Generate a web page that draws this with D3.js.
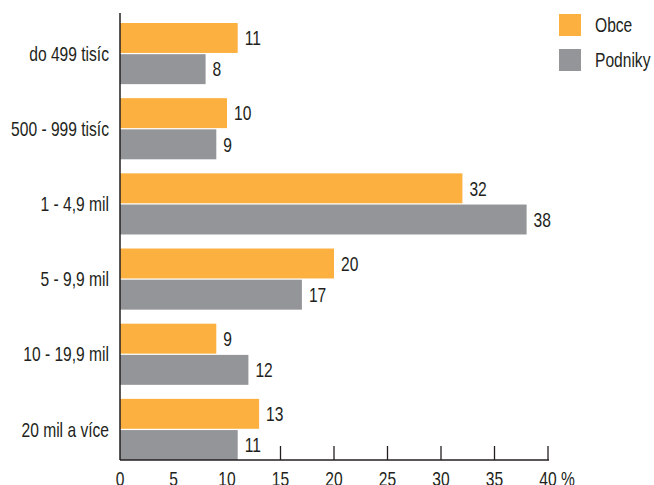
<!DOCTYPE html>
<html>
<head>
<meta charset="utf-8">
<script src="https://cdn.jsdelivr.net/npm/d3@7"></script>
<style>
  body { margin: 0; background: #fff; }
  svg text { font-family: "Liberation Sans", Arial, sans-serif; font-size: 20px; fill: #231f20; }
</style>
</head>
<body>
<div id="chart"></div>
<script>
// --- DATOS ---
const categories = ["do 499 tisíc", "500 - 999 tisíc", "1 - 4,9 mil", "5 - 9,9 mil", "10 - 19,9 mil", "20 mil a více"];
const series = ["Obce", "Podniky"];
const obce = [11, 10, 32, 20, 9, 13];
const podniky = [8, 9, 38, 17, 12, 11];
const xTicks = [0, 5, 10, 15, 20, 25, 30, 35, 40];
const colors = { "Obce": "#fbb040", "Podniky": "#939598" };

const W = 654, H = 485;
const x0 = 120, x1 = 548, yTop = 23, yBottom = 460;
const sx = 0.78; // estrechar el texto (fuente condensada)

const svg = d3.select("#chart").append("svg")
    .attr("width", W)
    .attr("height", H);

// texto condensado: posición por transform
function place(sel, fx, fy) {
    return sel.attr("transform", (d, i) => `translate(${fx(d, i)},${fy(d, i)}) scale(${sx},1)`);
}

const x = d3.scaleLinear().domain([0, 40]).range([x0, x1]);

const y = d3.scaleBand()
    .domain(categories)
    .range([yTop, yBottom])
    .paddingInner(14 / 75)
    .paddingOuter(0);

const ySub = d3.scaleBand()
    .domain(series)
    .range([0, y.bandwidth()])
    .paddingInner(0.04);

// ticks (detrás de las barras)
svg.append("g")
    .selectAll("line")
    .data(xTicks.filter(d => d > 0))
    .join("line")
    .attr("x1", d => x(d)).attr("x2", d => x(d))
    .attr("y1", yBottom - 14).attr("y2", yBottom)
    .attr("stroke", "#231f20")
    .attr("stroke-width", 1.3);

const rows = categories.map((c, i) => ({ cat: c, values: [
    { key: "Obce", v: obce[i] },
    { key: "Podniky", v: podniky[i] }
]}));

const g = svg.append("g")
    .selectAll("g")
    .data(rows)
    .join("g")
    .attr("transform", d => `translate(0,${y(d.cat)})`);

g.selectAll("rect")
    .data(d => d.values)
    .join("rect")
    .attr("x", x(0))
    .attr("y", d => ySub(d.key))
    .attr("width", d => x(d.v) - x(0))
    .attr("height", ySub.bandwidth())
    .attr("fill", d => colors[d.key]);

place(g.selectAll("text.val")
    .data(d => d.values)
    .join("text")
    .attr("class", "val")
    .attr("dy", "0.36em")
    .text(d => d.v),
    d => x(d.v) + 7, d => ySub(d.key) + ySub.bandwidth() / 2);

// etiquetas de categoría
place(svg.append("g")
    .selectAll("text")
    .data(categories)
    .join("text")
    .attr("dy", "0.36em")
    .attr("text-anchor", "end")
    .text(d => d),
    () => 109, d => y(d) + y.bandwidth() / 2);

// ejes
svg.append("line")
    .attr("x1", x0).attr("x2", x0)
    .attr("y1", 13).attr("y2", yBottom)
    .attr("stroke", "#231f20").attr("stroke-width", 1.5);

svg.append("line")
    .attr("x1", x0).attr("x2", x1 + 1)
    .attr("y1", yBottom).attr("y2", yBottom)
    .attr("stroke", "#231f20").attr("stroke-width", 1.5);

place(svg.append("g")
    .selectAll("text")
    .data(xTicks)
    .join("text")
    .attr("text-anchor", "middle")
    .text(d => d),
    d => x(d), () => 486);

place(svg.append("text").datum("%").text("%"),
    () => x(40) + 13, () => 486);

// leyenda
const legend = svg.append("g")
    .selectAll("g")
    .data(series)
    .join("g")
    .attr("transform", (d, i) => `translate(559,${14 + i * 35})`);

legend.append("rect")
    .attr("width", 22).attr("height", 22)
    .attr("fill", d => colors[d]);

place(legend.append("text")
    .attr("dy", "0.36em")
    .text(d => d),
    () => 36, () => 11);
</script>
</body>
</html>
